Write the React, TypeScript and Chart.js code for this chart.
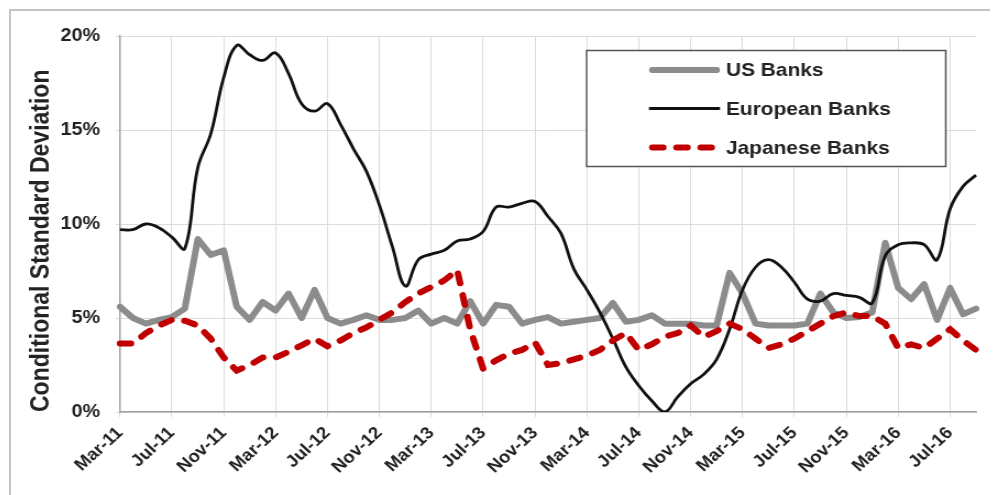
import { useEffect, useRef } from "react";
import { Chart, registerables } from "chart.js";

Chart.register(...registerables);

const months: string[] = [
  "Mar-11", "Apr-11", "May-11", "Jun-11", "Jul-11", "Aug-11", "Sep-11", "Oct-11", "Nov-11", "Dec-11",
  "Jan-12", "Feb-12", "Mar-12", "Apr-12", "May-12", "Jun-12", "Jul-12", "Aug-12", "Sep-12", "Oct-12", "Nov-12", "Dec-12",
  "Jan-13", "Feb-13", "Mar-13", "Apr-13", "May-13", "Jun-13", "Jul-13", "Aug-13", "Sep-13", "Oct-13", "Nov-13", "Dec-13",
  "Jan-14", "Feb-14", "Mar-14", "Apr-14", "May-14", "Jun-14", "Jul-14", "Aug-14", "Sep-14", "Oct-14", "Nov-14", "Dec-14",
  "Jan-15", "Feb-15", "Mar-15", "Apr-15", "May-15", "Jun-15", "Jul-15", "Aug-15", "Sep-15", "Oct-15", "Nov-15", "Dec-15",
  "Jan-16", "Feb-16", "Mar-16", "Apr-16", "May-16", "Jun-16", "Jul-16", "Aug-16", "Sep-16",
];

const usBanks: number[] = [
  5.6, 5.0, 4.7, 4.9, 5.05, 5.5, 9.2, 8.35, 8.6, 5.6,
  4.9, 5.85, 5.4, 6.3, 5.0, 6.5, 5.0, 4.7, 4.9, 5.15, 4.9, 4.9,
  5.0, 5.4, 4.7, 5.0, 4.7, 5.9, 4.7, 5.7, 5.6, 4.7, 4.9, 5.05,
  4.7, 4.8, 4.9, 5.0, 5.8, 4.8, 4.9, 5.15, 4.7, 4.7, 4.7, 4.6,
  4.6, 7.4, 6.3, 4.7, 4.6, 4.6, 4.6, 4.7, 6.3, 5.3, 5.0, 5.05,
  5.3, 9.0, 6.6, 6.0, 6.8, 4.9, 6.6, 5.2, 5.5,
];

const europeanBanks: number[] = [
  9.7, 9.7, 10.0, 9.8, 9.3, 8.7, 13.0, 14.8, 17.8, 19.5,
  19.0, 18.7, 19.1, 18.0, 16.4, 16.0, 16.4, 15.3, 14.0, 12.8, 11.0, 8.8,
  6.7, 8.1, 8.4, 8.6, 9.1, 9.2, 9.6, 10.9, 10.9, 11.1, 11.2, 10.4,
  9.5, 7.6, 6.5, 5.3, 3.9, 2.4, 1.4, 0.6, 0.0, 0.8, 1.5, 2.0,
  2.8, 4.4, 6.5, 7.7, 8.1, 7.7, 6.9, 6.0, 5.9, 6.3, 6.2, 6.1,
  5.8, 8.3, 8.9, 9.0, 8.9, 8.1, 10.8, 12.0, 12.6,
];

const japaneseBanks: number[] = [
  3.65, 3.65, 4.2, 4.6, 4.9, 4.85, 4.6, 3.9, 2.9, 2.2,
  2.5, 2.9, 2.9, 3.2, 3.55, 3.9, 3.5, 3.8, 4.2, 4.5, 4.9, 5.3,
  5.85, 6.3, 6.65, 7.0, 7.55, 4.4, 2.3, 2.75, 3.1, 3.3, 3.7, 2.5,
  2.6, 2.8, 3.0, 3.3, 3.8, 4.2, 3.3, 3.6, 4.0, 4.2, 4.6, 4.0,
  4.3, 4.7, 4.4, 3.9, 3.4, 3.6, 3.9, 4.3, 4.7, 5.1, 5.3, 5.1,
  5.1, 4.7, 3.4, 3.6, 3.4, 3.9, 4.4, 3.8, 3.3,
];

const seriesNames: string[] = ["US Banks", "European Banks", "Japanese Banks"];
const yTickValues: number[] = [0, 5, 10, 15, 20];
const yTitle = "Conditional Standard Deviation";

const FONT = '"Liberation Sans", Arial, sans-serif';
const TEXT = "#222222";

const boxLegend = {
  id: "boxLegend",
  afterDraw(chart: any, _args: any, opts: any) {
    const { ctx } = chart;
    const { left, top, right, bottom, rows, lineStart, lineEnd, textX, fontSize } = opts;
    ctx.save();
    ctx.fillStyle = "#ffffff";
    ctx.fillRect(left, top, right - left, bottom - top);
    ctx.strokeStyle = "#555555";
    ctx.lineWidth = 1.5;
    ctx.strokeRect(left, top, right - left, bottom - top);
    chart.data.datasets.forEach((ds: any, i: number) => {
      const y = rows[i];
      const cap = ds.borderCapStyle || "butt";
      const inset = cap === "round" ? ds.borderWidth / 2 : 0;
      ctx.beginPath();
      ctx.strokeStyle = ds.borderColor;
      ctx.lineWidth = ds.borderWidth;
      ctx.lineCap = cap;
      ctx.setLineDash(ds.borderDash || []);
      ctx.moveTo(lineStart + inset, y);
      ctx.lineTo(lineEnd - inset, y);
      ctx.stroke();
      ctx.setLineDash([]);
      ctx.fillStyle = TEXT;
      ctx.font = `bold ${fontSize}px ${FONT}`;
      ctx.textBaseline = "middle";
      ctx.textAlign = "left";
      ctx.fillText(ds.label, textX, y + 1);
    });
    ctx.restore();
  },
};

export default function App() {
  const ref = useRef<HTMLCanvasElement>(null);

  useEffect(() => {
    const canvas = ref.current;
    if (!canvas) return;
    const chart = new Chart(canvas, {
      type: "line",
      data: {
        labels: months,
        datasets: [
          {
            label: seriesNames[0],
            data: usBanks,
            borderColor: "#8c8c8c",
            borderWidth: 6,
            tension: 0,
            borderJoinStyle: "round",
            borderCapStyle: "round",
            pointRadius: 0,
            order: 3,
          },
          {
            label: seriesNames[1],
            data: europeanBanks,
            borderColor: "#111111",
            borderWidth: 2.8,
            tension: 0.4,
            pointRadius: 0,
            order: 2,
          },
          {
            label: seriesNames[2],
            data: japaneseBanks,
            borderColor: "#c00000",
            borderWidth: 6,
            borderDash: [10, 12],
            borderCapStyle: "round",
            tension: 0,
            pointRadius: 0,
            order: 1,
          },
        ],
      },
      options: {
        responsive: false,
        animation: false,
        devicePixelRatio: 1,
        layout: { padding: { top: 28, right: 20, left: 0, bottom: 0 } },
        plugins: {
          legend: { display: false },
          tooltip: { enabled: false },
          boxLegend: {
            left: 526,
            top: 42.5,
            right: 852.5,
            bottom: 158.5,
            rows: [62, 100.5, 139.5],
            lineStart: 582.7,
            lineEnd: 647.3,
            textX: 652.7,
            fontSize: 19,
          },
        } as any,
        scales: {
          x: {
            type: "category",
            afterFit: (s: any) => {
              s.height = 83;
            },
            ticks: {
              autoSkip: false,
              maxRotation: 45,
              minRotation: 45,
              padding: 6,
              color: TEXT,
              font: { family: FONT, size: 17, weight: "bold" },
              callback: (_v: any, i: number) => (i % 4 === 0 ? months[i] : null),
            },
            grid: { color: "#dcdcdc", lineWidth: 1, tickLength: 5 },
            border: { color: "#a0a0a0", width: 1.5 },
          },
          y: {
            min: yTickValues[0],
            max: yTickValues[yTickValues.length - 1],
            afterFit: (s: any) => {
              s.width = 101.8;
            },
            afterBuildTicks: (s: any) => {
              s.ticks = yTickValues.map((v) => ({ value: v }));
            },
            ticks: {
              padding: 14,
              color: TEXT,
              font: { family: FONT, size: 18, weight: "bold" },
              callback: (v: any) => `${v}%`,
            },
            grid: { color: "#dcdcdc", lineWidth: 1, tickLength: 4 },
            border: { color: "#a0a0a0", width: 1.5 },
            title: {
              display: true,
              text: yTitle,
              align: "start",
              color: TEXT,
              font: { family: FONT, size: 23, weight: "bold" },
              padding: { top: 16.4, bottom: 0 },
            },
          },
        },
      },
      plugins: [boxLegend],
    });
    return () => chart.destroy();
  }, []);

  return (
    <div style={{ position: "relative", width: 990, height: 487, overflow: "hidden", background: "#ffffff" }}>
      <div
        style={{
          position: "absolute",
          left: 1,
          top: 1,
          width: 1100,
          height: 600,
          borderLeft: "2px solid #c4c4c4",
          borderTop: "2px solid #c4c4c4",
        }}
      />
      <canvas
        ref={ref}
        width={900}
        height={487}
        style={{ position: "absolute", left: 0, top: 0, width: "990px", height: "487px" }}
      />
    </div>
  );
}
